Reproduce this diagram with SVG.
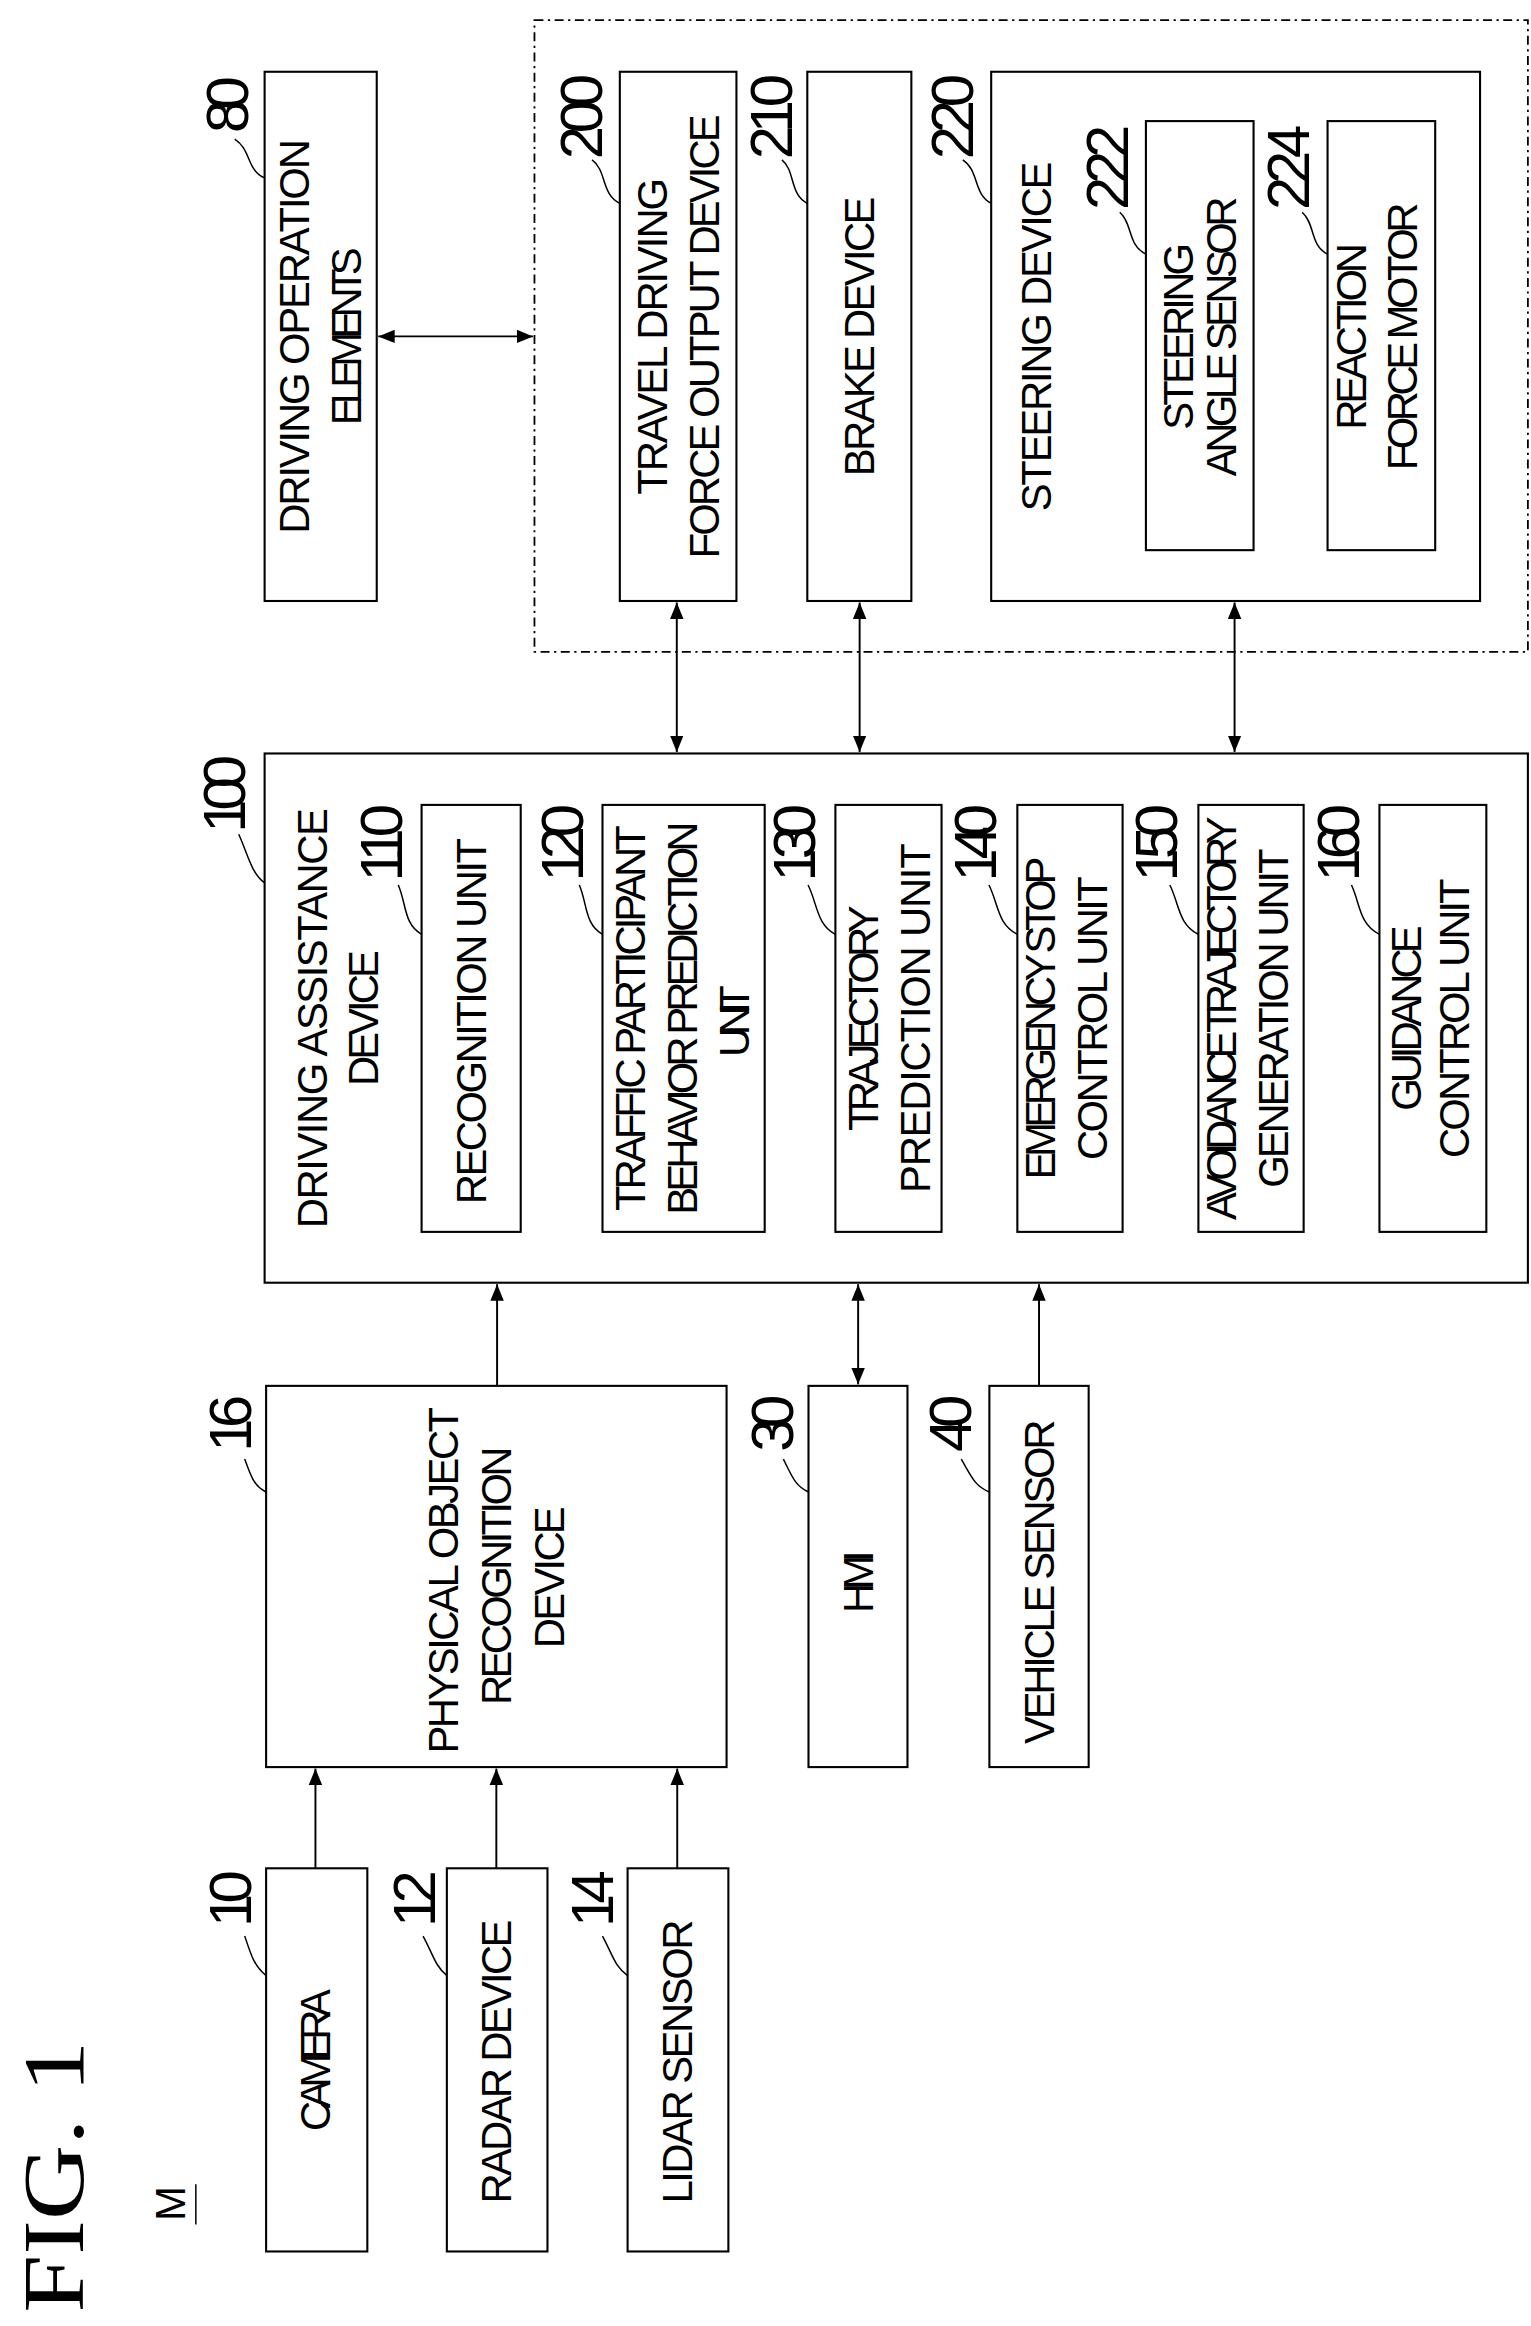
<svg xmlns="http://www.w3.org/2000/svg" width="1531" height="2326" viewBox="0 0 1531 2326">
<style>
.b{fill:none;stroke:#000;stroke-width:1.4}
.d{fill:none;stroke:#000;stroke-width:1.2;stroke-dasharray:6 3 1.5 3}
.c{fill:none;stroke:#000;stroke-width:1.3}
.l{fill:none;stroke:#000;stroke-width:1}
.t{font-family:"Liberation Sans",Arial,sans-serif;font-size:28px;text-anchor:middle;dominant-baseline:central;lengthAdjust:spacingAndGlyphs}
.n{font-family:"Liberation Sans",Arial,sans-serif;font-size:40px;text-anchor:middle;dominant-baseline:central}
</style>
<defs>
<marker id="a" markerUnits="userSpaceOnUse" markerWidth="12" markerHeight="12" viewBox="0 0 12 12" refX="11" refY="6" orient="auto-start-reverse"><path d="M0,1.5 L11,6 L0,10.5 Z" fill="#000"/></marker>
</defs>
<rect width="1531" height="2326" fill="#fff"/>
<g transform="scale(1.495)">
<g id="fig"><text transform="translate(36,1456) rotate(-90)" font-family="Liberation Serif,serif" font-size="58" text-anchor="middle" dominant-baseline="central" textLength="182" lengthAdjust="spacingAndGlyphs">FIG. 1</text>
<text transform="translate(114,1474) rotate(-90)" class="t" font-size="24" textLength="26">M</text><line x1="131" y1="1461" x2="131" y2="1488" class="l"/></g>
<g id="n300"><rect x="357.5" y="13.4" width="664.5" height="422.6" class="d"/></g>
<g id="n80"><rect x="177" y="48" width="75" height="354" class="b"/>
<text class="t" transform="translate(197,225) rotate(-90)" textLength="264">DRIVING OPERATION</text>
<text class="t" transform="translate(232,225) rotate(-90)" textLength="119">ELEMENTS</text>
<text class="n" transform="translate(152,70) rotate(-90)" textLength="38">80</text><path d="M177,119 C165,114 168,100 157,93" class="l"/></g>
<g id="n200"><rect x="414.6" y="48" width="78" height="354" class="b"/>
<text class="t" transform="translate(436.6,225) rotate(-90)" textLength="212">TRAVEL DRIVING</text>
<text class="t" transform="translate(471,225) rotate(-90)" textLength="297">FORCE OUTPUT DEVICE</text>
<text class="n" transform="translate(389,78) rotate(-90)" textLength="57">200</text><path d="M414.6,136 C402,130 406,114 396,107" class="l"/></g>
<g id="n210"><rect x="540" y="48" width="69.6" height="354" class="b"/>
<text class="t" transform="translate(575,225) rotate(-90)" textLength="187">BRAKE DEVICE</text>
<text class="n" transform="translate(516,78) rotate(-90)" textLength="57">210</text><path d="M540,136 C528,130 532,114 523,107" class="l"/></g>
<g id="n220"><rect x="663" y="48" width="327" height="354" class="b"/>
<text class="t" transform="translate(693,225) rotate(-90)" textLength="234">STEERING DEVICE</text>
<text class="n" transform="translate(637,78) rotate(-90)" textLength="57">220</text><path d="M663,136 C651,130 655,114 644,107" class="l"/></g>
<g id="n222"><rect x="766.5" y="81" width="72" height="287" class="b"/>
<text class="t" transform="translate(788.5,225) rotate(-90)" textLength="125">STEERING</text>
<text class="t" transform="translate(817,225) rotate(-90)" textLength="187">ANGLE SENSOR</text>
<text class="n" transform="translate(740.5,112) rotate(-90)" textLength="57">222</text><path d="M766.5,170 C754,164 758,150 749,142" class="l"/></g>
<g id="n224"><rect x="888" y="81" width="72" height="287" class="b"/>
<text class="t" transform="translate(903.7,225) rotate(-90)" textLength="125">REACTION</text>
<text class="t" transform="translate(938.4,225) rotate(-90)" textLength="179">FORCE MOTOR</text>
<text class="n" transform="translate(861.6,112) rotate(-90)" textLength="57">224</text><path d="M888,170 C876,164 880,150 871,142" class="l"/></g>
<g id="n100"><rect x="177" y="504" width="845" height="354" class="b"/>
<text class="t" transform="translate(208.8,681) rotate(-90)" textLength="281">DRIVING ASSISTANCE</text>
<text class="t" transform="translate(243.4,681) rotate(-90)" textLength="91">DEVICE</text>
<text class="n" transform="translate(150,531) rotate(-90)" textLength="52">100</text><path d="M159.7,558 C166,572 168,584 177,590.6" class="l"/></g>
<g id="n110"><rect x="282" y="538.4" width="66.3" height="285.6" class="b"/>
<text class="t" transform="translate(315.5,683) rotate(-90)" textLength="245">RECOGNITION UNIT</text>
<text class="n" transform="translate(255,563.7) rotate(-90)" textLength="52">110</text><path d="M266.4,592 C272,605 270,618 282,625" class="l"/></g>
<g id="n120"><rect x="403" y="538.4" width="108.5" height="285.6" class="b"/>
<text class="t" transform="translate(422,681) rotate(-90)" textLength="258">TRAFFIC PARTICIPANT</text>
<text class="t" transform="translate(456.8,681) rotate(-90)" textLength="263">BEHAVIOR PREDICTION</text>
<text class="t" transform="translate(491.4,683) rotate(-90)" textLength="48">UNIT</text>
<text class="n" transform="translate(376,563.7) rotate(-90)" textLength="52">120</text><path d="M387.5,592 C393,605 391,618 403,625" class="l"/></g>
<g id="n130"><rect x="558.8" y="538.4" width="71" height="285.6" class="b"/>
<text class="t" transform="translate(577.9,681) rotate(-90)" textLength="151">TRAJECTORY</text>
<text class="t" transform="translate(612.5,681) rotate(-90)" textLength="234">PREDICTION UNIT</text>
<text class="n" transform="translate(531.7,563.7) rotate(-90)" textLength="52">130</text><path d="M540.5,592 C547,605 546,618 558.8,625" class="l"/></g>
<g id="n140"><rect x="680.5" y="538.4" width="70.4" height="285.6" class="b"/>
<text class="t" transform="translate(696,681) rotate(-90)" textLength="216">EMERGENCY STOP</text>
<text class="t" transform="translate(730.7,681) rotate(-90)" textLength="190">CONTROL UNIT</text>
<text class="n" transform="translate(652.8,563.7) rotate(-90)" textLength="52">140</text><path d="M661.5,592 C668,605 667,618 680.5,625" class="l"/></g>
<g id="n150"><rect x="801.6" y="538.4" width="70.4" height="285.6" class="b"/>
<text class="t" transform="translate(817,681) rotate(-90)" textLength="270">AVOIDANCE TRAJECTORY</text>
<text class="t" transform="translate(851.8,681) rotate(-90)" textLength="227">GENERATION UNIT</text>
<text class="n" transform="translate(773.9,563.7) rotate(-90)" textLength="52">150</text><path d="M782.5,592 C789,605 788,618 801.6,625" class="l"/></g>
<g id="n160"><rect x="922.7" y="538.4" width="71.5" height="285.6" class="b"/>
<text class="t" transform="translate(941,681) rotate(-90)" textLength="124">GUIDANCE</text>
<text class="t" transform="translate(973,681) rotate(-90)" textLength="187">CONTROL UNIT</text>
<text class="n" transform="translate(895,563.7) rotate(-90)" textLength="52">160</text><path d="M904,592 C910,605 909,618 922.7,625" class="l"/></g>
<g id="n16"><rect x="178" y="927" width="308" height="255" class="b"/>
<text class="t" transform="translate(296.5,1057) rotate(-90)" textLength="232">PHYSICAL OBJECT</text>
<text class="t" transform="translate(332,1054) rotate(-90)" textLength="173">RECOGNITION</text>
<text class="t" transform="translate(367.7,1055) rotate(-90)" textLength="95">DEVICE</text>
<text class="n" transform="translate(154,952) rotate(-90)" textLength="38">16</text><path d="M163.7,976 C168,988 170,994 178,998" class="l"/></g>
<g id="n30"><rect x="540.8" y="927" width="66.2" height="255" class="b"/>
<text class="t" transform="translate(574,1058) rotate(-90)" textLength="42">HMI</text>
<text class="n" transform="translate(517,952) rotate(-90)" textLength="38">30</text><path d="M524,976 C530,988 532,994 540.8,998" class="l"/></g>
<g id="n40"><rect x="661.8" y="927" width="66.4" height="255" class="b"/>
<text class="t" transform="translate(695,1058) rotate(-90)" textLength="217">VEHICLE SENSOR</text>
<text class="n" transform="translate(635.7,952) rotate(-90)" textLength="38">40</text><path d="M643,976 C650,988 652,994 661.8,998" class="l"/></g>
<g id="n10"><rect x="178" y="1249.7" width="67.7" height="256.3" class="b"/>
<text class="t" transform="translate(211,1378) rotate(-90)" textLength="95">CAMERA</text>
<text class="n" transform="translate(154,1270) rotate(-90)" textLength="38">10</text><path d="M163.7,1295 C168,1308 170,1315 178,1321.5" class="l"/></g>
<g id="n12"><rect x="298.9" y="1249.7" width="67.3" height="256.3" class="b"/>
<text class="t" transform="translate(332,1379) rotate(-90)" textLength="190">RADAR DEVICE</text>
<text class="n" transform="translate(277.5,1270) rotate(-90)" textLength="38">12</text><path d="M283,1295 C290,1308 291,1315 298.9,1321.5" class="l"/></g>
<g id="n14"><rect x="419.8" y="1249.7" width="67.4" height="256.3" class="b"/>
<text class="t" transform="translate(453,1379) rotate(-90)" textLength="190">LIDAR SENSOR</text>
<text class="n" transform="translate(396,1270) rotate(-90)" textLength="38">14</text><path d="M403,1295 C410,1308 411,1315 419.8,1321.5" class="l"/></g>
<g id="connectors">
<line x1="253" y1="225" x2="356.5" y2="225" class="c" marker-start="url(#a)" marker-end="url(#a)"/>
<line x1="452.7" y1="403" x2="452.7" y2="503" class="c" marker-start="url(#a)" marker-end="url(#a)"/>
<line x1="575" y1="403" x2="575" y2="503" class="c" marker-start="url(#a)" marker-end="url(#a)"/>
<line x1="825.8" y1="403" x2="825.8" y2="503" class="c" marker-start="url(#a)" marker-end="url(#a)"/>
<line x1="332.5" y1="927" x2="332.5" y2="859" class="c" marker-end="url(#a)"/>
<line x1="574" y1="926" x2="574" y2="859" class="c" marker-start="url(#a)" marker-end="url(#a)"/>
<line x1="695" y1="927" x2="695" y2="859" class="c" marker-end="url(#a)"/>
<line x1="211" y1="1249.7" x2="211" y2="1183" class="c" marker-end="url(#a)"/>
<line x1="332" y1="1249.7" x2="332" y2="1183" class="c" marker-end="url(#a)"/>
<line x1="453" y1="1249.7" x2="453" y2="1183" class="c" marker-end="url(#a)"/>
</g>
</g>
</svg>
